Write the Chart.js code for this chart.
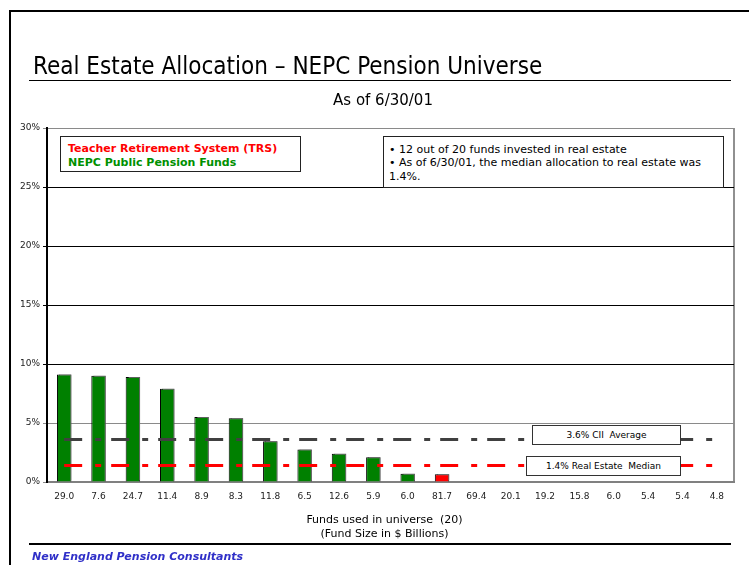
<!DOCTYPE html>
<html><head><meta charset="utf-8">
<script src="https://cdn.jsdelivr.net/npm/chart.js@4/dist/chart.umd.min.js"></script>
<style>
html,body{margin:0;padding:0;background:#fff;}
#page{position:relative;width:749px;height:565px;overflow:hidden;font-family:'DejaVu Sans',sans-serif;color:#000;background:#fff;}
#chartWrap{position:absolute;left:0;top:0;width:749px;height:565px;}
.abs{position:absolute;white-space:pre;}
#title{left:33px;top:54px;font-family:'DejaVu Sans Condensed','DejaVu Sans',sans-serif;font-stretch:condensed;font-size:24px;line-height:24px;}
#subtitle{left:0;width:766px;text-align:center;top:93px;font-size:15px;line-height:15px;}
.rule{position:absolute;background:#000;}
#legendBox{position:absolute;left:60px;top:136px;width:239px;height:34px;border:1.5px solid #222;background:#fff;}
#noteBox{position:absolute;left:383px;top:136px;width:339px;height:50px;border:1px solid #222;background:#fff;}
.lbl{position:absolute;border:1px solid #333;background:#fff;font-size:9px;line-height:18px;text-align:center;white-space:pre;}
#axisTitle{left:0;width:769px;text-align:center;top:513px;font-size:11px;line-height:14px;}
#footer{left:32px;top:550px;font-size:11px;font-weight:bold;font-style:italic;color:#3030c8;line-height:14px;}
</style></head>
<body>
<div id="page">
  <div class="rule" style="left:9px;top:10px;width:2px;height:555px;"></div>
  <div class="rule" style="left:9px;top:10px;width:740px;height:2px;"></div>
  <div id="chartWrap"><canvas id="c" width="749" height="565"></canvas></div>
  <div class="abs" id="title">Real Estate Allocation – NEPC Pension Universe</div>
  <div class="rule" style="left:29px;top:80px;width:702px;height:1px;"></div>
  <div class="abs" id="subtitle">As of 6/30/01</div>
  <div id="legendBox">
    <div class="abs" style="left:7px;top:5px;font-size:11px;font-weight:bold;line-height:14px;color:#ff0000;">Teacher Retirement System (TRS)</div>
    <div class="abs" style="left:7px;top:19px;font-size:11px;font-weight:bold;line-height:14px;color:#009000;">NEPC Public Pension Funds</div>
  </div>
  <div id="noteBox">
    <div class="abs" style="left:5px;top:6px;font-size:11px;line-height:13.3px;">• 12 out of 20 funds invested in real estate
• As of 6/30/01, the median allocation to real estate was
1.4%.</div>
  </div>
  <div class="lbl" style="left:532px;top:425px;width:147px;height:18px;">3.6% CII  Average</div>
  <div class="lbl" style="left:526px;top:456px;width:153px;height:18px;">1.4% Real Estate  Median</div>
  <div class="abs" id="axisTitle">Funds used in universe  (20)
(Fund Size in $ Billions)</div>
  <div class="rule" style="left:29px;top:543px;width:702px;height:1.5px;"></div>
  <div class="abs" id="footer">New England Pension Consultants</div>
</div>
<script>
// ---- data ----
const fundSizes = ['29.0','7.6','24.7','11.4','8.9','8.3','11.8','6.5','12.6','5.9','6.0','81.7','69.4','20.1','19.2','15.8','6.0','5.4','5.4','4.8'];
const allocations = [9.1, 9.0, 8.9, 7.9, 5.5, 5.4, 3.45, 2.75, 2.4, 2.1, 0.7, 0.65, 0, 0, 0, 0, 0, 0, 0, 0];
const fundGroup = ['NEPC','NEPC','NEPC','NEPC','NEPC','NEPC','NEPC','NEPC','NEPC','NEPC','NEPC','TRS','NEPC','NEPC','NEPC','NEPC','NEPC','NEPC','NEPC','NEPC'];
const ciiAverage = [3.6,3.6,3.6,3.6,3.6,3.6,3.6,3.6,3.6,3.6,3.6,3.6,3.6,3.6,3.6,3.6,3.6,3.6,3.6,3.6];
const realEstateMedian = [1.4,1.4,1.4,1.4,1.4,1.4,1.4,1.4,1.4,1.4,1.4,1.4,1.4,1.4,1.4,1.4,1.4,1.4,1.4,1.4];
const yTicks = [0, 5, 10, 15, 20, 25, 30];

const groupColors = {NEPC: '#008000', TRS: '#ff0000'};

const barShadow = {
  id: 'barShadow',
  beforeDatasetDraw(chart, args) {
    if (args.index !== 0) return;
    const ctx = chart.ctx;
    ctx.save();
    ctx.shadowColor = 'rgba(120,120,120,0.8)';
    ctx.shadowOffsetX = 2;
    ctx.shadowOffsetY = -1;
    ctx.shadowBlur = 0;
  },
  afterDatasetDraw(chart, args) {
    if (args.index !== 0) return;
    chart.ctx.restore();
  }
};

new Chart(document.getElementById('c'), {
  type: 'bar',
  data: {
    labels: fundSizes,
    datasets: [
      {
        type: 'bar',
        label: 'Real estate allocation',
        data: allocations,
        backgroundColor: fundGroup.map(g => groupColors[g]),
        borderColor: '#000',
        borderWidth: 1,
        barPercentage: 0.42,
        categoryPercentage: 1.0,
        order: 2
      },
      {
        type: 'line',
        label: 'CII Average',
        data: ciiAverage,
        borderColor: '#404040',
        borderWidth: 3,
        borderDash: [18, 13, 6, 10],
        pointRadius: 0,
        fill: false,
        order: 1
      },
      {
        type: 'line',
        label: 'Real Estate Median',
        data: realEstateMedian,
        borderColor: '#ff0000',
        borderWidth: 3,
        borderDash: [18, 13, 6, 10],
        pointRadius: 0,
        fill: false,
        order: 0
      }
    ]
  },
  options: {
    responsive: false,
    animation: false,
    layout: { padding: { left: 0, top: 128, right: 15, bottom: 58 } },
    plugins: { legend: { display: false }, tooltip: { enabled: false } },
    scales: {
      x: {
        offset: true,
        grid: {
          offset: true,
          drawTicks: false,
          color: (c) => (c.type === 'scale' ? '#909090' : 'rgba(0,0,0,0)'),
          lineWidth: 2
        },
        border: { display: true, color: '#808080', width: 2 },
        ticks: { color: '#222', font: { family: 'DejaVu Sans', size: 9 }, padding: 9, maxRotation: 0, autoSkip: false },
        afterFit: (s) => { s.height = 25; }
      },
      y: {
        min: 0,
        max: 30,
        afterBuildTicks: (s) => { s.ticks = yTicks.map(v => ({ value: v })); },
        grid: {
          color: (c) => ([0, 5, 30].includes(c.tick && c.tick.value) ? '#8a8a8a' : '#000'),
          lineWidth: 1,
          tickLength: 4,
          drawTicks: true
        },
        border: { display: true, color: '#000', width: 2 },
        ticks: { color: '#222', font: { family: 'DejaVu Sans', size: 9 }, padding: 3, callback: (v) => v + '%' },
        afterFit: (s) => { s.width = 47; }
      }
    }
  },
  plugins: [barShadow]
});
</script>
</body></html>
